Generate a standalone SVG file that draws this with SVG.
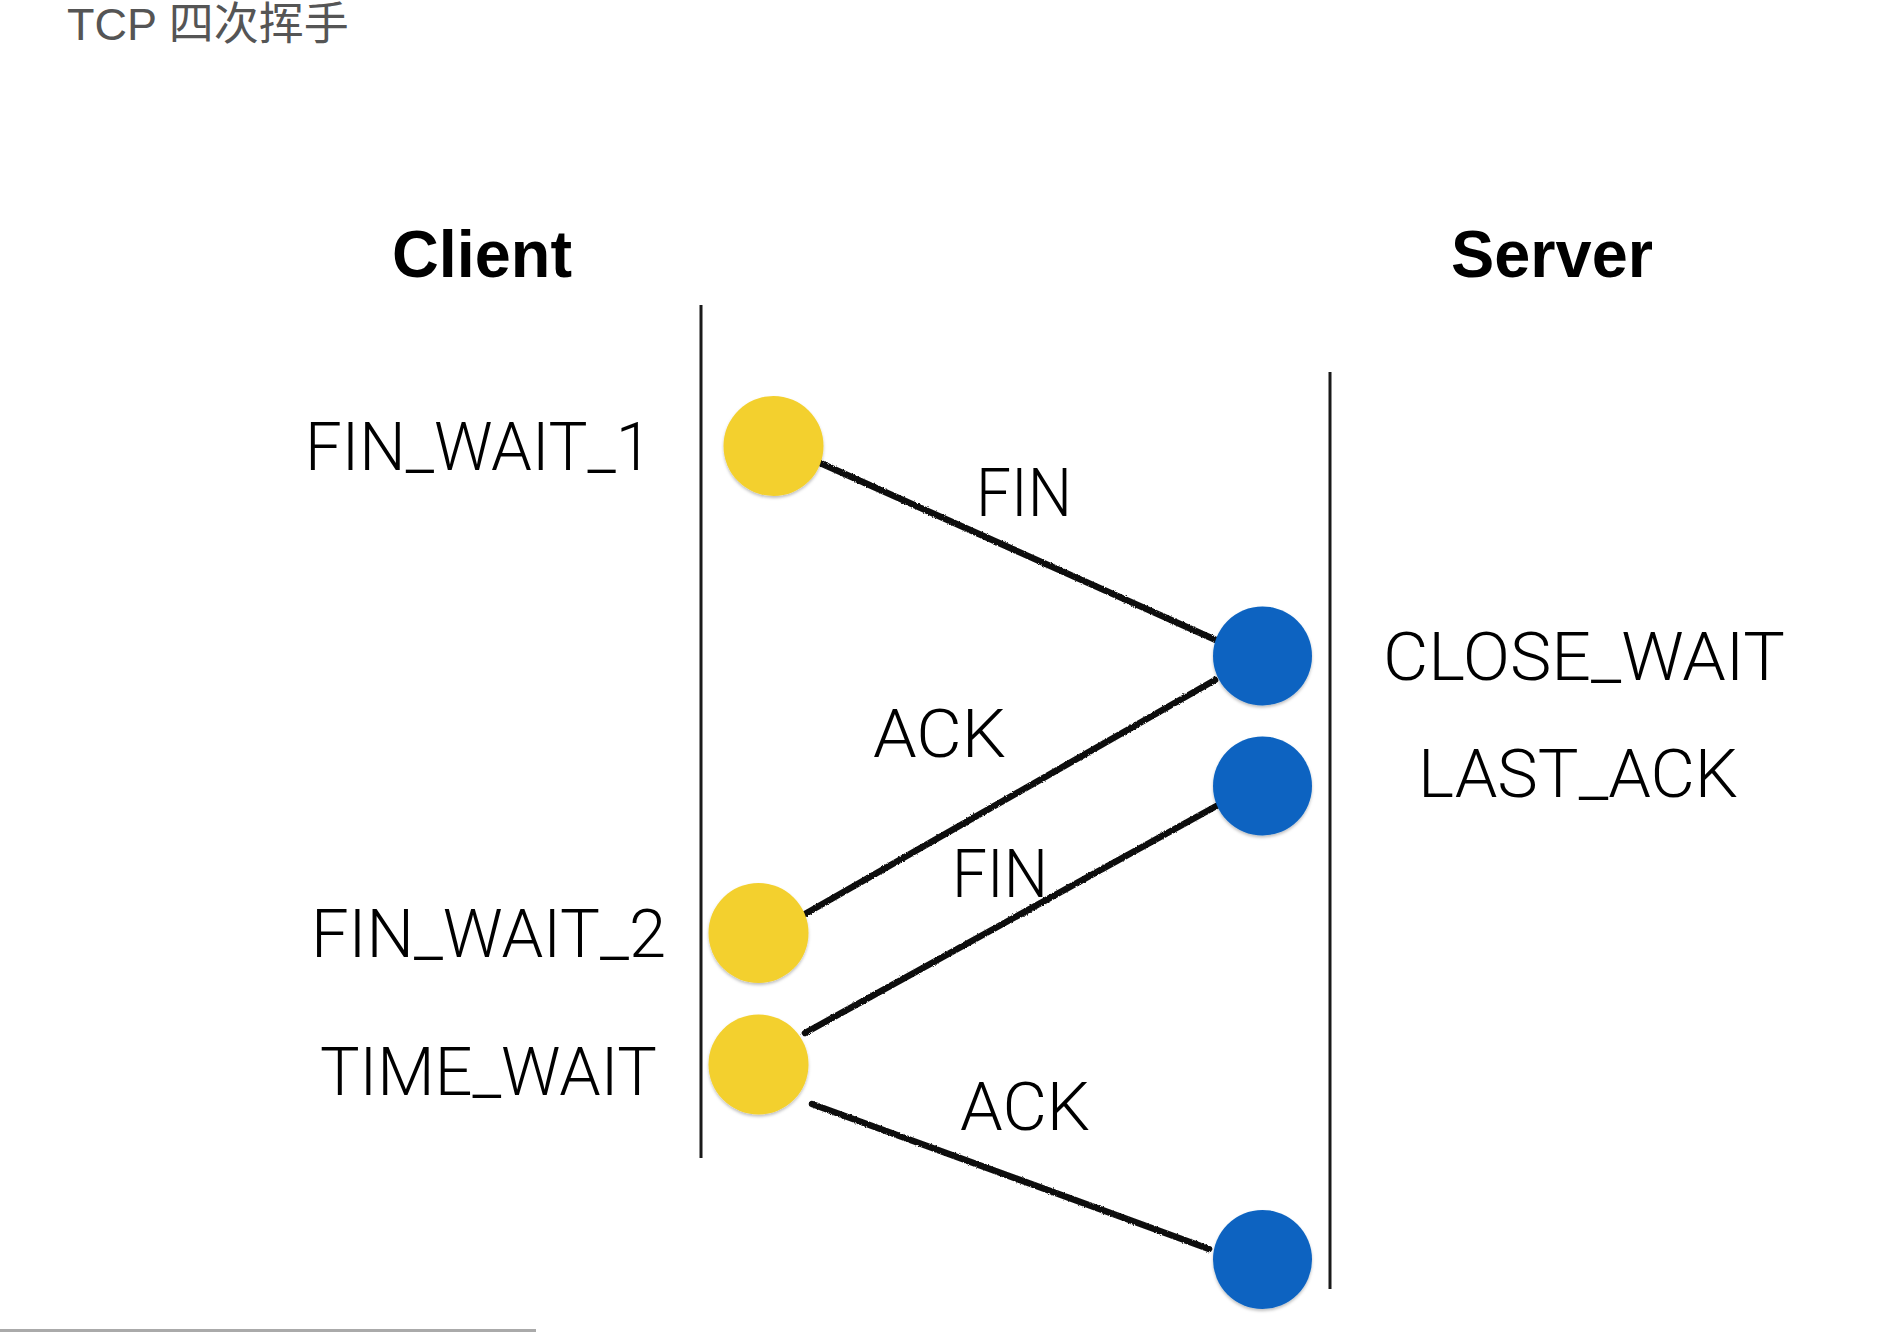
<svg xmlns="http://www.w3.org/2000/svg" width="1890" height="1332" viewBox="0 0 1890 1332">
  <style>
    .title { font-family: "Liberation Sans", "Noto Sans CJK SC", sans-serif; font-size: 45px; fill: #555555; }
    .head { font-family: "Liberation Sans", Arial, sans-serif; font-weight: bold; font-size: 66px; fill: #000000; text-anchor: middle; }
    .lbl { font-family: Roboto, "Liberation Sans", sans-serif; font-weight: 300; font-size: 66px; fill: #000000; }
    .life { stroke: #1a1a1a; stroke-width: 3; fill: none; }
    .msg { stroke: #0d0d0d; stroke-width: 6.5; stroke-linecap: round; fill: none; }
    .cli { fill: #F3D02E; }
    .srv { fill: #0A63C1; }
  </style>
  <defs>
    <filter id="rough" x="-5%" y="-20%" width="110%" height="140%">
      <feTurbulence type="fractalNoise" baseFrequency="0.9" numOctaves="2" seed="3" result="n"/>
      <feDisplacementMap in="SourceGraphic" in2="n" scale="2.5" xChannelSelector="R" yChannelSelector="G"/>
    </filter>
    <filter id="shadow" x="-20%" y="-20%" width="140%" height="150%">
      <feDropShadow dx="0" dy="2" stdDeviation="1.5" flood-color="#000000" flood-opacity="0.25"/>
    </filter>
  </defs>
  <rect width="1890" height="1332" fill="#ffffff"/>

  <text class="title" x="67" y="40">TCP 四次挥手</text>

  <g id="client">
    <text class="head" x="482" y="277" textLength="180" lengthAdjust="spacingAndGlyphs">Client</text>
    <line class="life" x1="701" y1="305" x2="701" y2="1158"/>
  </g>
  <g id="server">
    <text class="head" x="1552" y="277" textLength="202" lengthAdjust="spacingAndGlyphs">Server</text>
    <line class="life" x1="1330" y1="372" x2="1330" y2="1289"/>
  </g>

  <g id="connectors" filter="url(#rough)">
    <line class="msg" x1="818" y1="462" x2="1227" y2="645"/>
    <line class="msg" x1="1215" y1="680" x2="805" y2="914"/>
    <line class="msg" x1="1220" y1="804" x2="805" y2="1033"/>
    <line class="msg" x1="812" y1="1104" x2="1209" y2="1249"/>
  </g>

  <g id="connector-labels">
    <text class="lbl" x="976" y="516" textLength="96" lengthAdjust="spacingAndGlyphs">FIN</text>
    <text class="lbl" x="873" y="757" textLength="133" lengthAdjust="spacingAndGlyphs">ACK</text>
    <text class="lbl" x="952" y="897" textLength="96" lengthAdjust="spacingAndGlyphs">FIN</text>
    <text class="lbl" x="960" y="1130" textLength="130" lengthAdjust="spacingAndGlyphs">ACK</text>
  </g>

  <g id="fin_wait_1">
    <circle class="cli" cx="773.5" cy="446" r="50" filter="url(#shadow)"/>
    <text class="lbl" x="305" y="470" textLength="347" lengthAdjust="spacingAndGlyphs">FIN_WAIT_1</text>
  </g>
  <g id="fin_wait_2">
    <circle class="cli" cx="758.5" cy="933" r="50" filter="url(#shadow)"/>
    <text class="lbl" x="311" y="957" textLength="355" lengthAdjust="spacingAndGlyphs">FIN_WAIT_2</text>
  </g>
  <g id="time_wait">
    <circle class="cli" cx="758.5" cy="1064.5" r="50" filter="url(#shadow)"/>
    <text class="lbl" x="320" y="1095" textLength="337" lengthAdjust="spacingAndGlyphs">TIME_WAIT</text>
  </g>
  <g id="close_wait">
    <circle class="srv" cx="1262.5" cy="656" r="49.5" filter="url(#shadow)"/>
    <text class="lbl" x="1383" y="680" textLength="402" lengthAdjust="spacingAndGlyphs">CLOSE_WAIT</text>
  </g>
  <g id="last_ack">
    <circle class="srv" cx="1262.5" cy="786" r="49.5" filter="url(#shadow)"/>
    <text class="lbl" x="1418" y="797" textLength="320" lengthAdjust="spacingAndGlyphs">LAST_ACK</text>
  </g>
  <g id="closed">
    <circle class="srv" cx="1262.5" cy="1259.5" r="49.5" filter="url(#shadow)"/>
  </g>

  <rect x="0" y="1329" width="536" height="3" fill="#aaaaaa"/>
</svg>
